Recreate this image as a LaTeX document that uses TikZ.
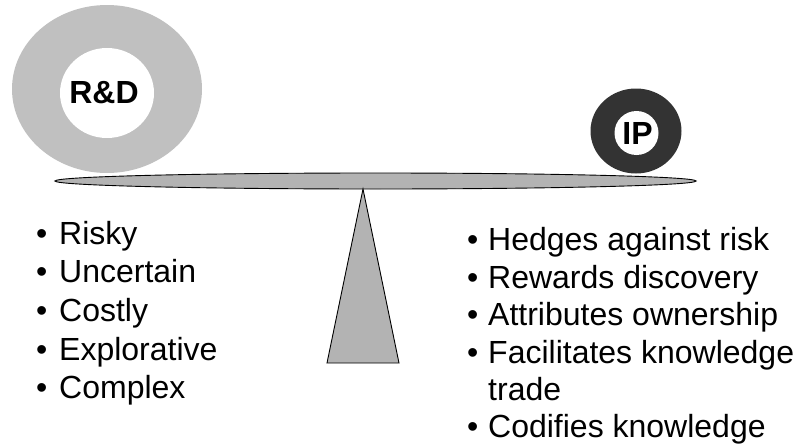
\documentclass[tikz,border=0pt]{standalone}
\usepackage{fontspec}
\setmainfont{Liberation Sans}
\definecolor{ringlight}{HTML}{C0C0C0}
\definecolor{ringdark}{HTML}{333333}
\definecolor{beamgray}{HTML}{B3B3B3}
\tikzset{
  beam/.style={fill=beamgray, draw=black, line width=0.9pt},
  lbl/.style={font=\fontsize{32}{38}\selectfont\bfseries, inner sep=0pt},
  item/.style={font=\fontsize{32}{38}\selectfont, anchor=base west, inner sep=0pt},
  bul/.style={font=\fontsize{32}{38}\selectfont, anchor=base west, inner sep=0pt},
}
\begin{document}
\begin{tikzpicture}[x=1pt,y=-1pt]
\useasboundingbox (0,0) rectangle (796,447);
% R&D ring
\fill[ringlight] (107,89) ellipse [x radius=95, y radius=84];
\fill[white] (107,93) ellipse [x radius=47, y radius=45];
\node[lbl] (rd) at (104,93) {R\&D};
% IP ring
\fill[ringdark] (636,131) ellipse [x radius=45.5, y radius=42.5];
\fill[white] (636.5,133) circle [radius=22];
\node[lbl] (ip) at (637.5,133) {IP};
% beam
\draw[beam] (375.5,181) ellipse [x radius=320.5, y radius=8];
% fulcrum
\draw[beam, line join=miter] (363,189) -- (399,363) -- (327,363) -- cycle;
% left list
\foreach \y/\t in {244/Risky, 282/Uncertain, 321/Costly, 360/Explorative, 398/Complex}{
  \node[bul] at (36,\y) {•};
  \node[item] at (59,\y) {\t};
}
% right list
\foreach \y/\t in {250/Hedges against risk, 288/Rewards discovery, 325/Attributes ownership, 363/Facilitates knowledge, 437/Codifies knowledge}{
  \node[bul] at (467,\y) {•};
  \node[item] at (488,\y) {\t};
}
\node[item] at (488,400) {trade};
\end{tikzpicture}
\end{document}
